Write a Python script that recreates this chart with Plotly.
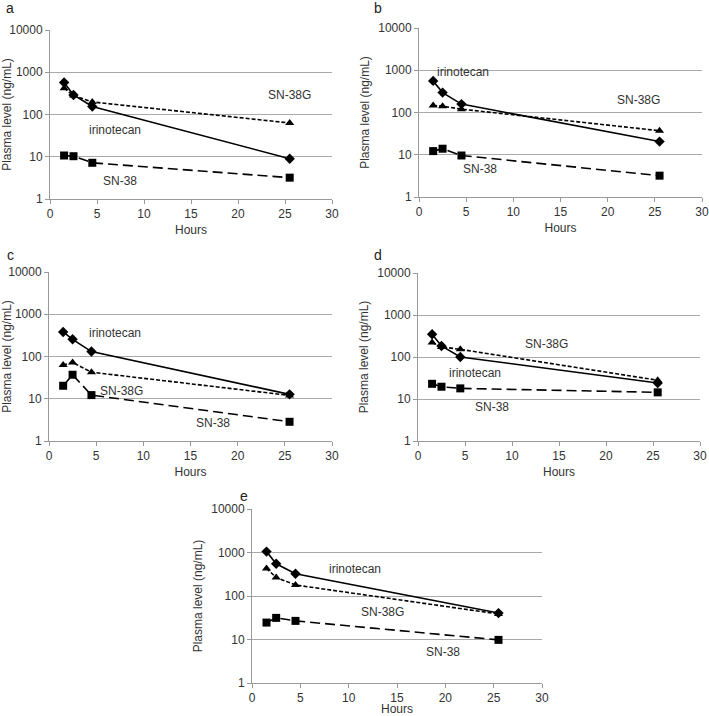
import plotly.graph_objects as go

hours = [1.5, 2.5, 4.5, 25.5]
panels = ["a", "b", "c", "d", "e"]

irinotecan = {
    "a": [570, 290, 155, 9],
    "b": [560, 296, 158, 20.5],
    "c": [381, 255, 131, 12.7],
    "d": [347, 183, 100, 24],
    "e": [1050, 550, 324, 40.5],
}
sn38g = {
    "a": [420, 280, 198, 63],
    "b": [147, 141, 120, 37],
    "c": [63, 72, 42.5, 12],
    "d": [220, 174, 152, 28],
    "e": [430, 267, 179, 38.6],
}
sn38 = {
    "a": [10.7, 10.3, 7.2, 3.2],
    "b": [12.2, 13.9, 9.6, 3.2],
    "c": [20.3, 37, 12.2, 2.85],
    "d": [23, 19.6, 17.9, 14.4],
    "e": [24.5, 31.4, 26.8, 9.8],
}
# label positions (x in hours, y in log10 units)
labels = {
    "a": [("SN-38G", 25.5, 2.45), ("irinotecan", 6.9, 1.64), ("SN-38", 7.4, 0.415)],
    "b": [("irinotecan", 4.7, 2.96), ("SN-38G", 23.3, 2.29), ("SN-38", 6.5, 0.67)],
    "c": [("irinotecan", 7.0, 2.55), ("SN-38G", 7.7, 1.19), ("SN-38", 17.4, 0.42)],
    "d": [("SN-38G", 13.7, 2.30), ("irinotecan", 6.1, 1.63), ("SN-38", 7.9, 0.80)],
    "e": [("irinotecan", 10.7, 2.62), ("SN-38G", 13.45, 1.64), ("SN-38", 19.8, 0.72)],
}

W, H = 709, 716
boxes = {  # left, right, top, bottom in pixels
    "a": (50, 332, 30, 199),
    "b": (419, 702, 28, 197),
    "c": (49, 332, 272, 441),
    "d": (418, 700, 273, 441),
    "e": (252, 542, 509, 683),
}
letter_pos = {"a": (10, 8), "b": (378, 8), "c": (10, 255), "d": (378, 255), "e": (244, 496)}

fig = go.Figure()
font = dict(family="Liberation Sans, Arial, sans-serif", size=12, color="#333333")

for i, p in enumerate(panels):
    n = "" if i == 0 else str(i + 1)
    xa, ya = "x" + n, "y" + n
    l, r, t, b = boxes[p]
    fig.update_layout(**{
        "xaxis" + n: dict(domain=[l / W, r / W], range=[0, 30], dtick=5, anchor=ya,
                          automargin=False,
                          showgrid=False, zeroline=False, showline=True, linecolor="#999999",
                          linewidth=1, ticks="outside", ticklen=4, tickcolor="#999999",
                          title=dict(text="Hours", font=font, standoff=5), tickfont=font),
        "yaxis" + n: dict(domain=[1 - b / H, 1 - t / H], type="log", range=[0, 4], anchor=xa,
                          automargin=False,
                          tickvals=[1, 10, 100, 1000, 10000], ticktext=["1", "10", "100", "1000", "10000"],
                          showgrid=True, gridcolor="#aaaaaa", gridwidth=1, zeroline=False,
                          showline=True, linecolor="#999999", linewidth=1,
                          ticks="outside", ticklen=4, tickcolor="#999999",
                          title=dict(text="Plasma level (ng/mL)", font=font, standoff=6), tickfont=font),
    })
    fig.add_trace(go.Scatter(x=hours, y=irinotecan[p], xaxis=xa, yaxis=ya, mode="lines+markers",
                             line=dict(color="black", width=1.6, dash="solid"),
                             marker=dict(symbol="diamond", size=8, color="black"), showlegend=False))
    fig.add_trace(go.Scatter(x=hours, y=sn38g[p], xaxis=xa, yaxis=ya, mode="lines+markers",
                             line=dict(color="black", width=1.6, dash="4px,2px"),
                             marker=dict(symbol="triangle-up", size=8, color="black"), showlegend=False))
    fig.add_trace(go.Scatter(x=hours, y=sn38[p], xaxis=xa, yaxis=ya, mode="lines+markers",
                             line=dict(color="black", width=1.6, dash="10px,5px"),
                             marker=dict(symbol="square", size=8, color="black"), showlegend=False))
    for txt, lx, ly in labels[p]:
        fig.add_annotation(x=lx, y=ly, xref=xa, yref=ya, text=txt, showarrow=False,
                           font=dict(family=font["family"], size=12, color="#333333"))
    px, py = letter_pos[p]
    fig.add_annotation(x=px / W, y=1 - py / H, xref="paper", yref="paper", text=p, showarrow=False,
                       xanchor="center", yanchor="middle",
                       font=dict(family=font["family"], size=14, color="#222222"))

fig.update_layout(width=W, height=H, margin=dict(l=0, r=0, t=0, b=0, autoexpand=False),
                  template="none",
                  paper_bgcolor="white", plot_bgcolor="white")
fig.write_html("out.html", config={"displayModeBar": False},
               post_script="document.body.style.margin='0';document.body.style.overflow='hidden';")
